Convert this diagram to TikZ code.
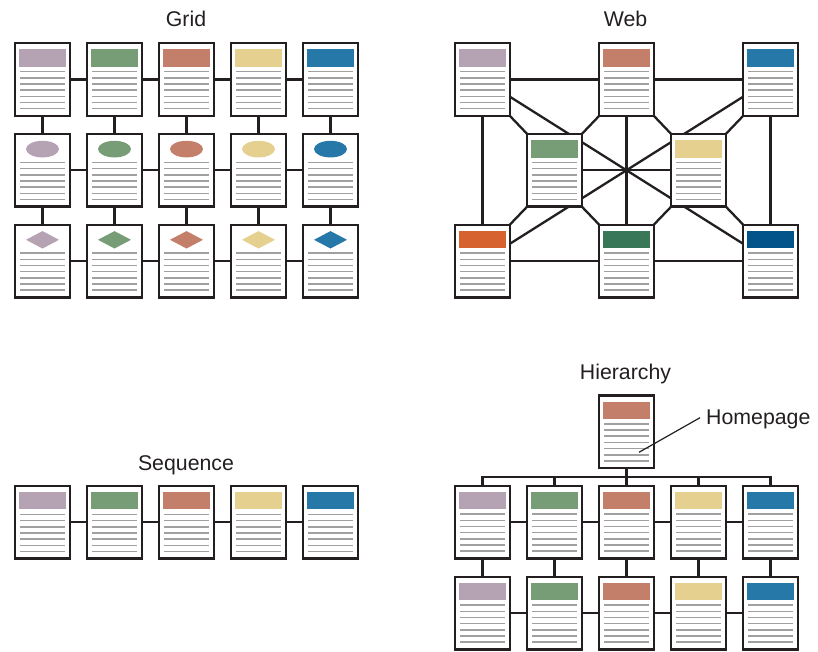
\documentclass[tikz,border=0pt]{standalone}
\usepackage{fontspec}
\setmainfont{Liberation Sans}
\pgfdeclarelayer{bg}
\pgfsetlayers{bg,main}

\definecolor{ink}{HTML}{231F20}
\definecolor{rule}{HTML}{A0A0A0}
\definecolor{mauve}{HTML}{B5A2B2}
\definecolor{sage}{HTML}{769D76}
\definecolor{terra}{HTML}{C47F6B}
\definecolor{sand}{HTML}{E6D08F}
\definecolor{ocean}{HTML}{2578A8}
\definecolor{rust}{HTML}{D5622F}
\definecolor{forest}{HTML}{387858}
\definecolor{navy}{HTML}{02538A}

\tikzset{
  pagebox/.style={draw=ink, fill=white, line width=2.4pt, rectangle,
    minimum width=54.6pt, minimum height=72.6pt, inner sep=0pt, outer sep=0pt},
  link/.style={draw=ink, line width=2.3pt},
  textline/.style={draw=rule, line width=1.5pt},
  labelfont/.style={font=\fontsize{21.3}{25}\selectfont, text=ink, inner sep=0pt},
  title/.style={labelfont, anchor=base},
}

% one page: name, x, y, colour, mark (0 bar, 1 ellipse, 2 diamond)
\newcommand\pagenode[5]{%
  \node[pagebox] (#1) at (#2,#3) {};
  \begin{scope}[shift={(#1.center)}]
    \ifcase#5
      \fill[#4] (-23.2,-30.2) rectangle (23.2,-12.8);
    \or
      \fill[#4] (0,-21.2) ellipse [x radius=16.5pt, y radius=8.3pt];
    \or
      \fill[#4] (-16.5,-21.2) -- (0,-29.9) -- (16.5,-21.2) -- (0,-12.5) -- cycle;
    \fi
    \foreach \k in {0,...,6}
      \draw[textline] (-22.5,{-7.8+6.17*\k}) -- (22.5,{-7.8+6.17*\k});
  \end{scope}}

\begin{document}
\begin{tikzpicture}[x=1pt, y=-1pt]
\useasboundingbox (0,0) rectangle (818,651);

% ---------------- Grid ----------------
\node[title] (gridtitle) at (186,26.7) {Grid};
\foreach \c/\x/\col in {1/42.5/mauve, 2/114.5/sage, 3/186.5/terra, 4/258.5/sand, 5/330.5/ocean} {
  \pagenode{ga\c}{\x}{79.5}{\col}{0}
  \pagenode{gb\c}{\x}{170.3}{\col}{1}
  \pagenode{gc\c}{\x}{261}{\col}{2}
}
\begin{pgfonlayer}{bg}
  \foreach \r in {a,b,c}
    \foreach \c/\n in {1/2,2/3,3/4,4/5}
      \draw[link] (g\r\c) -- (g\r\n);
  \foreach \c in {1,...,5} {
    \draw[link] (ga\c) -- (gb\c);
    \draw[link] (gb\c) -- (gc\c);
  }
\end{pgfonlayer}

% ---------------- Web ----------------
\node[title] (webtitle) at (625.5,26.7) {Web};
\pagenode{wtl}{482.5}{79.5}{mauve}{0}
\pagenode{wtm}{626.5}{79.5}{terra}{0}
\pagenode{wtr}{770.5}{79.5}{ocean}{0}
\pagenode{wml}{554.5}{170.3}{sage}{0}
\pagenode{wmr}{698.5}{170.3}{sand}{0}
\pagenode{wbl}{482.5}{261}{rust}{0}
\pagenode{wbm}{626.5}{261}{forest}{0}
\pagenode{wbr}{770.5}{261}{navy}{0}
\begin{pgfonlayer}{bg}
  \draw[link] (wtl) -- (wtm) -- (wtr);
  \draw[link] (wbl) -- (wbm) -- (wbr);
  \draw[link] (wtl) -- (wbl);
  \draw[link] (wtr) -- (wbr);
  \draw[link] (wtm) -- (wbm);
  \draw[link] (wml) -- (wmr);
  \draw[link] (wtl) -- (wbr);
  \draw[link] (wbl) -- (wtr);
  \draw[link] (wtl.south east) -- (wml.north west);
  \draw[link] (wtm.south west) -- (wml.north east);
  \draw[link] (wtm.south east) -- (wmr.north west);
  \draw[link] (wtr.south west) -- (wmr.north east);
  \draw[link] (wml.south west) -- (wbl.north east);
  \draw[link] (wml.south east) -- (wbm.north west);
  \draw[link] (wmr.south west) -- (wbm.north east);
  \draw[link] (wmr.south east) -- (wbr.north west);
\end{pgfonlayer}

% ---------------- Sequence ----------------
\node[title] (seqtitle) at (186,470) {Sequence};
\foreach \c/\x/\col in {1/42.5/mauve, 2/114.5/sage, 3/186.5/terra, 4/258.5/sand, 5/330.5/ocean} {
  \pagenode{s\c}{\x}{522.2}{\col}{0}
}
\begin{pgfonlayer}{bg}
  \draw[link] (s1) -- (s2) -- (s3) -- (s4) -- (s5);
\end{pgfonlayer}

% ---------------- Hierarchy ----------------
\node[title] (hiertitle) at (625.5,379) {Hierarchy};
\pagenode{home}{626.5}{431.7}{terra}{0}
\foreach \c/\x/\col in {1/482.5/mauve, 2/554.5/sage, 3/626.5/terra, 4/698.5/sand, 5/770.5/ocean} {
  \pagenode{ha\c}{\x}{522}{\col}{0}
  \pagenode{hb\c}{\x}{613}{\col}{0}
}
\coordinate (bus) at (626.5,476.7);
\begin{pgfonlayer}{bg}
  \draw[link] (home) -- (bus);
  \foreach \c in {1,...,5} {
    \draw[link] (ha\c.center) |- (bus);
    \draw[link] (ha\c) -- (hb\c);
  }
  \draw[link] (ha1) -- (ha2) -- (ha3) -- (ha4) -- (ha5);
  \draw[link] (hb1) -- (hb2) -- (hb3) -- (hb4) -- (hb5);
\end{pgfonlayer}
\coordinate (tip) at (639,452.3);
\node[labelfont, anchor=base west] (homelabel) at (706,424.3) {Homepage};
\draw[ink, line width=1.2pt] (tip) -- (700,417.7);

\end{tikzpicture}
\end{document}
